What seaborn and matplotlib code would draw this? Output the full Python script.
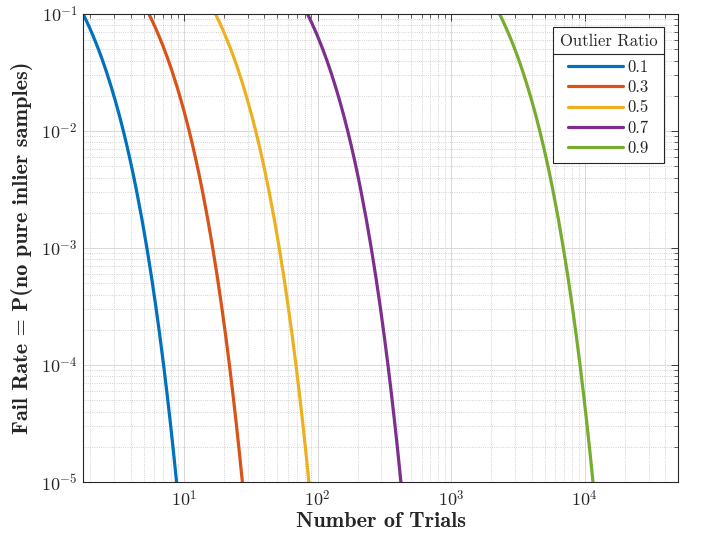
import numpy as np
import pandas as pd
import matplotlib
matplotlib.use("Agg")
import matplotlib.pyplot as plt
from matplotlib.ticker import FuncFormatter, LogLocator, NullFormatter
from matplotlib.lines import Line2D
import seaborn as sns

# ---- data (fail rate levels and trial counts) ----
fail_exp = [0.75, 0.8125, 0.875, 0.9375, 1.0, 1.0625, 1.125, 1.1875, 1.25, 1.3125,
            1.375, 1.4375, 1.5, 1.625, 1.75, 1.875, 2.0, 2.125, 2.25, 2.375, 2.5,
            2.75, 3.0, 3.25, 3.5, 3.75, 4.0, 4.25, 4.5, 4.75, 5.0, 5.25]
outlier_ratios = ["0.1", "0.3", "0.5", "0.7", "0.9"]
trials_01 = [1.3228, 1.4330, 1.5432, 1.6535, 1.7637, 1.8739, 1.9842, 2.0944, 2.2046,
             2.3149, 2.4251, 2.5353, 2.6456, 2.8660, 3.0865, 3.3069, 3.5274, 3.7479,
             3.9683, 4.1888, 4.4093, 4.8502, 5.2911, 5.7320, 6.1730, 6.6139, 7.0548,
             7.4957, 7.9367, 8.3776, 8.8185, 9.2594]
trials_03 = [4.1111, 4.4537, 4.7963, 5.1389, 5.4815, 5.8241, 6.1667, 6.5093, 6.8519,
             7.1945, 7.5371, 7.8797, 8.2223, 8.9074, 9.5926, 10.2778, 10.963, 11.6482,
             12.3334, 13.0186, 13.7038, 15.0741, 16.4445, 17.8149, 19.1853, 20.5556,
             21.926, 23.2964, 24.6668, 26.0371, 27.4075, 28.7779]
trials_05 = [12.933, 14.011, 15.089, 16.166, 17.244, 18.322, 19.400, 20.477, 21.555,
             22.633, 23.711, 24.788, 25.866, 28.022, 30.177, 32.333, 34.488, 36.644,
             38.799, 40.955, 43.11, 47.421, 51.732, 56.043, 60.354, 64.665, 68.976,
             73.287, 77.598, 81.909, 86.22, 90.531]
trials_07 = [63.09, 68.35, 73.61, 78.87, 84.13, 89.38, 94.64, 99.90, 105.16, 110.41,
             115.67, 120.93, 126.19, 136.70, 147.22, 157.73, 168.25, 178.77, 189.28,
             199.80, 210.31, 231.34, 252.38, 273.41, 294.44, 315.47, 336.5, 357.53,
             378.56, 399.59, 420.63, 441.66]
trials_09 = [1726, 1870, 2014, 2158, 2301, 2445, 2589, 2733, 2877, 3021, 3164, 3308,
             3452, 3740, 4027, 4315, 4603, 4890, 5178, 5466, 5754, 6329, 6904, 7480,
             8055, 8630, 9206, 9781, 10356, 10932, 11507, 12082]
colors = ["#0072BD", "#D95319", "#EDB120", "#7E2F8E", "#77AC30"]

fail_rate = [10.0 ** (-e) for e in fail_exp]
series = [trials_01, trials_03, trials_05, trials_07, trials_09]
df = pd.concat([
    pd.DataFrame({"trials": s, "fail": fail_rate, "ratio": r})
    for s, r in zip(series, outlier_ratios)
], ignore_index=True)

sns.set_style("white")
plt.rcParams["mathtext.fontset"] = "cm"
plt.rcParams["font.family"] = ["cmr10", "DejaVu Serif"]
plt.rcParams["axes.unicode_minus"] = False

fig = plt.figure(figsize=(7.02, 5.40), dpi=100)
ax = fig.add_axes([0.1187, 0.1074, 0.8475, 0.8667])
ax.set_xscale("log")
ax.set_yscale("log")

sns.lineplot(data=df, x="trials", y="fail", hue="ratio", hue_order=outlier_ratios,
             palette=dict(zip(outlier_ratios, colors)), sort=False,
             estimator=None, linewidth=2.3, ax=ax, legend=False)

ax.set_xlim(1.77, 5e4)
ax.set_ylim(1e-5, 1e-1)

ax.xaxis.set_major_locator(LogLocator(base=10, numticks=20))
ax.xaxis.set_minor_locator(LogLocator(base=10, subs=np.arange(2, 10), numticks=100))
ax.yaxis.set_major_locator(LogLocator(base=10, numticks=20))
ax.yaxis.set_minor_locator(LogLocator(base=10, subs=np.arange(2, 10), numticks=100))
fmt = FuncFormatter(lambda v, p: r"$10^{%d}$" % int(round(np.log10(v))))
ax.xaxis.set_major_formatter(fmt)
ax.yaxis.set_major_formatter(fmt)
ax.xaxis.set_minor_formatter(NullFormatter())
ax.yaxis.set_minor_formatter(NullFormatter())

ax.set_axisbelow(True)
ax.grid(True, which="major", color="#D8D8D8", linewidth=0.7, linestyle="-")
ax.grid(True, which="minor", color="#C4C4C4", linewidth=0.6, linestyle=":")

for sp in ax.spines.values():
    sp.set_color("#262626")
    sp.set_linewidth(0.8)
ax.tick_params(which="both", direction="in", top=True, right=True, colors="#262626",
               labelsize=13)
ax.tick_params(which="major", length=5, width=0.6)
ax.tick_params(which="minor", length=3, width=0.5)
ax.tick_params(axis="x", pad=5)
ax.tick_params(axis="y", pad=4)

ax.set_xlabel("Number of Trials", fontfamily="cmb10", fontsize=16, labelpad=2)
ax.set_ylabel("Fail Rate = P(no pure inlier samples)", fontfamily="cmb10",
              fontsize=16, labelpad=6)

handles = [Line2D([0], [0], color=c, lw=2.3) for c in colors]
leg = ax.legend(handles, outlier_ratios, title="Outlier Ratio", loc="upper right",
                bbox_to_anchor=(0.976, 0.972), borderaxespad=0, fontsize=12,
                title_fontsize=12, handlelength=3.3, handletextpad=0.3,
                labelspacing=0.3, fancybox=False, framealpha=1,
                edgecolor="#262626", borderpad=0.4, alignment="center")
leg.get_frame().set_linewidth(0.8)
try:
    leg._legend_box.sep = 7.5
except Exception:
    pass

fig.canvas.draw()
renderer = fig.canvas.get_renderer()
lb = leg.get_window_extent(renderer)
tb = leg.get_title().get_window_extent(renderer)
sep_y = tb.y0 - 5
inv = fig.transFigure.inverted()
(x0, y0) = inv.transform((lb.x0, sep_y))
(x1, _) = inv.transform((lb.x1, sep_y))
fig.add_artist(Line2D([x0, x1], [y0, y0], color="#262626", lw=0.8,
                      transform=fig.transFigure))

fig.savefig("out.png", dpi=100)
